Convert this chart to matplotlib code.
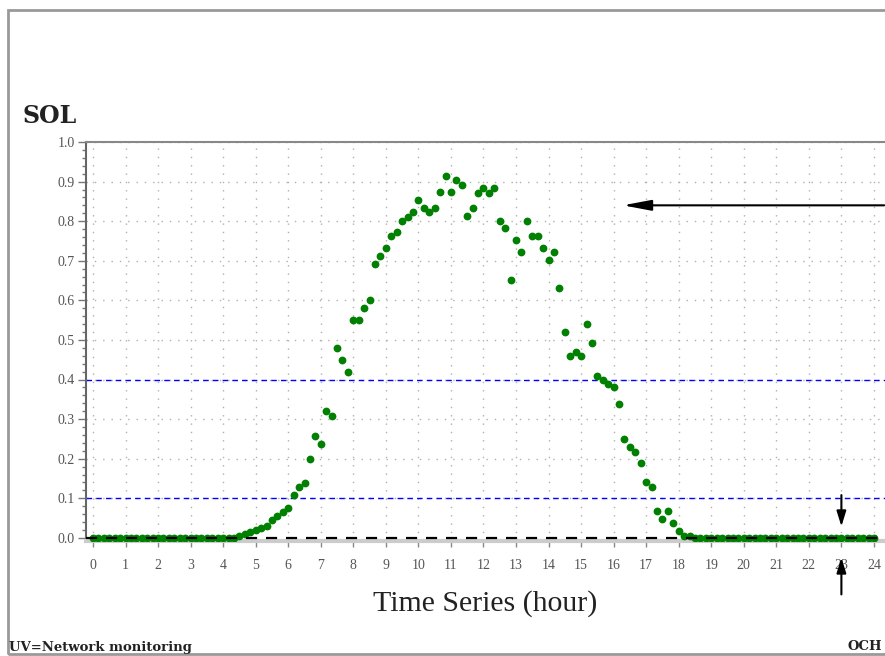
import numpy as np
import matplotlib
matplotlib.use("Agg")
import matplotlib.pyplot as plt
from matplotlib.patches import Rectangle
from matplotlib.ticker import MultipleLocator

# 10-minute readings over one day
minutes = np.arange(0, 1441, 10)
hours = minutes / 60.0

sol = [
    0.0, 0.0, 0.0, 0.0, 0.0, 0.0,          # 00h
    0.0, 0.0, 0.0, 0.0, 0.0, 0.0,          # 01h
    0.0, 0.0, 0.0, 0.0, 0.0, 0.0,          # 02h
    0.0, 0.0, 0.0, 0.0, 0.0, 0.0,          # 03h
    0.0, 0.0, 0.0, 0.005, 0.01, 0.016,     # 04h
    0.02, 0.026, 0.03, 0.046, 0.056, 0.066,    # 05h
    0.076, 0.108, 0.129, 0.139, 0.198, 0.258,  # 06h
    0.238, 0.32, 0.307, 0.48, 0.449, 0.42,     # 07h
    0.551, 0.551, 0.581, 0.601, 0.691, 0.711,  # 08h
    0.733, 0.762, 0.772, 0.801, 0.81, 0.822,   # 09h
    0.854, 0.833, 0.824, 0.833, 0.873, 0.913,  # 10h
    0.873, 0.903, 0.892, 0.813, 0.833, 0.872,  # 11h
    0.885, 0.872, 0.883, 0.801, 0.782, 0.651,  # 12h
    0.752, 0.722, 0.801, 0.762, 0.762, 0.733,  # 13h
    0.701, 0.721, 0.631, 0.521, 0.46, 0.469,   # 14h
    0.46, 0.541, 0.492, 0.409, 0.398, 0.388,   # 15h
    0.38, 0.338, 0.249, 0.229, 0.217, 0.19,    # 16h
    0.14, 0.128, 0.069, 0.047, 0.069, 0.037,   # 17h
    0.018, 0.005, 0.005, 0.0, 0.0, 0.0,        # 18h
    0.0, 0.0, 0.0, 0.0, 0.0, 0.0,          # 19h
    0.0, 0.0, 0.0, 0.0, 0.0, 0.0,          # 20h
    0.0, 0.0, 0.0, 0.0, 0.0, 0.0,          # 21h
    0.0, 0.0, 0.0, 0.0, 0.0, 0.0,          # 22h
    0.0, 0.0, 0.0, 0.0, 0.0, 0.0,          # 23h
    0.0,                                   # 24h
]

x_ticks = list(range(0, 25))
y_ticks = [0.0, 0.1, 0.2, 0.3, 0.4, 0.5, 0.6, 0.7, 0.8, 0.9, 1.0]
thresholds = [0.4, 0.1]

serif = ["Liberation Serif", "DejaVu Serif"]

fig = plt.figure(figsize=(8.85, 6.56), dpi=100)
ax = fig.add_axes([86 / 885, 115 / 656, 799 / 885, 399 / 656])

ax.set_xlim(-0.215, 24.34)
ax.set_ylim(-0.008, 1.0)

# dotted background grid
for xv in x_ticks:
    ax.axvline(xv, color="#b0b0b0", lw=1.0, ls=(0, (1, 5)), zorder=1)
for yv in y_ticks[1:]:
    ax.axhline(yv, color="#b0b0b0", lw=1.0, ls=(0, (1, 5)), zorder=1)

for yv in thresholds:
    ax.axhline(yv, color="#0000ff", lw=1.0, ls=(0, (4, 3)), zorder=2)

ax.plot(hours, sol, "o", color="#008000", ms=4.6, mec="#008000", zorder=3)
ax.axhline(0.0, color="black", lw=1.6, ls=(0, (5, 4)), zorder=4)

ax.set_xticks(x_ticks)
ax.set_xticklabels([str(v) for v in x_ticks], family=serif, fontsize=10, color="#555555")
ax.set_yticks(y_ticks)
ax.set_yticklabels(["%.1f" % v for v in y_ticks], family=serif, fontsize=10, color="#555555")
ax.yaxis.set_minor_locator(MultipleLocator(0.02))
ax.tick_params(axis="x", direction="out", length=4, width=1, color="#888888", pad=9)
ax.tick_params(axis="y", which="major", direction="out", length=6, width=1, color="#777777", pad=2)
ax.tick_params(axis="y", which="minor", direction="out", length=3, width=1, color="#777777")

ax.spines["right"].set_visible(False)
ax.spines["left"].set_color("#666666")
ax.spines["left"].set_linewidth(1.5)
ax.spines["top"].set_color("#888888")
ax.spines["top"].set_linewidth(1.5)
ax.spines["bottom"].set_color("#cccccc")
ax.spines["bottom"].set_linewidth(3)

# annotation arrows
ax.annotate("", xy=(16.2, 0.84), xytext=(24.4, 0.84),
            arrowprops=dict(arrowstyle="-|>,head_length=1.7,head_width=0.32",
                            color="black", lw=1.5),
            annotation_clip=False)
ax.annotate("", xy=(23.0, 0.022), xytext=(23.0, 0.115),
            arrowprops=dict(arrowstyle="-|>,head_length=0.9,head_width=0.28",
                            color="black", lw=1.5),
            annotation_clip=False)
ax.annotate("", xy=(23.0, -0.043), xytext=(23.0, -0.15),
            arrowprops=dict(arrowstyle="-|>,head_length=0.9,head_width=0.28",
                            color="black", lw=1.5),
            annotation_clip=False)

fig.text(22 / 885, 1 - 116 / 656, "SOL", family=["DejaVu Serif"], fontweight="bold",
         fontsize=17, color="#222222", va="center", ha="left")
fig.text(485 / 885, 1 - 604 / 656, "Time Series (hour)", family=serif,
         fontsize=21.5, color="#222222", va="center", ha="center")
fig.text(9 / 885, 1 - 647 / 656, "UV=Network monitoring", family=["DejaVu Serif"],
         fontweight="bold", fontsize=9.5, color="#222222", va="center", ha="left")
fig.text(848 / 885, 1 - 647 / 656, "OCH", family=["DejaVu Serif"],
         fontweight="bold", fontsize=9.5, color="#222222", va="center", ha="left")

# page frame
fig.add_artist(Rectangle((8 / 885, 2 / 656), 1.0, 644 / 656, transform=fig.transFigure,
                         fill=False, edgecolor="#999999", lw=2))

fig.savefig("out.png", dpi=100)
